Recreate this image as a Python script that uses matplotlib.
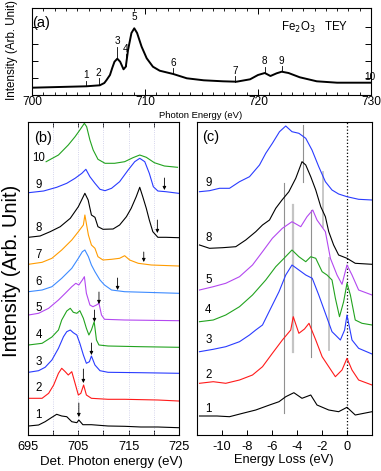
import numpy as np
import matplotlib
matplotlib.use('Agg')
import matplotlib.pyplot as plt

plt.rcParams['font.family'] = ['Liberation Sans', 'DejaVu Sans']
plt.rcParams['axes.unicode_minus'] = False

# ---- (a) TEY spectrum ----
a_E = [700, 704.8, 706.0, 706.4, 706.6, 706.9, 707.1, 707.3, 707.55, 707.8, 708.1, 708.3, 708.5,
       708.8, 709.05, 709.3, 709.7, 710.15, 710.7, 711.3, 712.5, 713.7, 715.2, 716.9, 718.1,
       719.3, 720.0, 720.6, 721.1, 721.65, 722.1, 722.7, 723.7, 725.2, 727.0, 730]
a_I = [7.3, 8.7, 9.7, 12, 15, 20, 27, 33.3, 36.3, 33.3, 25.7, 28.3, 45,
       62, 66.7, 62, 48.3, 36.7, 28.3, 24.3, 21, 16.7, 14.7, 13.7, 13.3,
       15.7, 20, 22, 19, 21.7, 23.3, 22, 17.7, 13.7, 12.3, 12.3]
a_marks = ['1', '2', '3', '4', '5', '6', '7', '8', '9', '10']
a_mark_E = [704.8, 705.9, 707.55, 708.3, 709.05, 712.5, 718.0, 720.6, 722.1, 729.9]
a_tick_top = [14, 17, 48, 41, 72, 27, 19, 28, 29, 13]
a_tick_bot = [9, 10, 37, 29, 72, 21, 13, 22, 24, 13]

# ---- (b) emission spectra vs detected photon energy ----
b1_E = [695.1, 697.1, 698.4, 699.75, 700.7, 701.7, 702.7, 703.7, 704.7, 705.1, 705.9, 707.6, 710.9, 714.2, 717.4, 720.8, 724.9]
b1_I = [9, 10, 13.3, 17.7, 20.7, 19, 18.3, 13.3, 12.3, 15, 10.3, 10.3, 9, 8.7, 8, 8, 7.3]
b2_E = [695.1, 697.8, 699.1, 700.1, 701.05, 701.7, 702.4, 703.0, 703.7, 704.35, 705.0, 705.5, 706.05, 706.6, 707.6, 710.9, 714.2, 720.8, 724.9]
b2_I = [36.7, 36.7, 41.7, 50, 61.7, 66.7, 63.3, 60, 63.3, 51.7, 40, 41.7, 50, 40, 36.7, 35.7, 35.7, 35, 34]
b3_E = [695.1, 697.1, 698.4, 699.75, 701.05, 702.05, 702.7, 703.4, 704.0, 704.7, 705.3, 706.0, 706.6, 707.2, 707.6, 708.3, 709.3, 710.9, 717.4, 724.9]
b3_I = [62.7, 64.3, 67.7, 75, 86.7, 98.3, 103.3, 105, 102.3, 100, 91.7, 80, 71.7, 73.3, 79, 70, 64.3, 62.7, 62.3, 61.7]
b4_E = [695.1, 697.8, 699.75, 701.05, 701.7, 702.7, 703.4, 704.0, 704.7, 705.3, 706.0, 706.6, 707.1, 707.6, 708.15, 708.6, 709.1, 710.9, 717.4, 724.9]
b4_I = [90, 91.7, 98, 105, 115, 124, 126.7, 122.7, 121.7, 124.3, 116.7, 106.7, 100, 105, 113.3, 95, 90, 89, 88.3, 87.7]
b5_E = [695.1, 697.1, 699.1, 701.05, 702.4, 703.7, 704.5, 705.1, 705.8, 706.2, 706.6, 707.3, 707.9, 708.6, 709.1, 709.6, 710.2, 714.2, 724.9]
b5_I = [120, 121.7, 126.7, 135, 141.7, 148.3, 151.7, 150, 155, 158.3, 141.7, 130, 128.3, 130, 131.7, 120, 115.7, 115, 114.3]
b6_E = [695.1, 697.8, 699.75, 701.7, 703.7, 705.0, 705.8, 706.3, 707.0, 707.6, 708.3, 709.3, 710.2, 711.6, 714.2, 724.9]
b6_I = [143.3, 145, 148.3, 156.7, 166.7, 176.7, 183.3, 185, 178.3, 170, 163.3, 155, 150, 145, 143.3, 141.7]
b7_E = [695.1, 697.8, 699.75, 701.7, 703.7, 705.0, 706.0, 706.3, 707.0, 707.6, 708.3, 708.9, 709.9, 711.6, 713.2, 714.2, 715.2, 716.9, 719.5, 724.9]
b7_I = [170.7, 172.7, 176.7, 185, 195, 203.3, 210, 220, 200, 190, 186.7, 178.3, 175, 175.7, 176.7, 179.3, 175, 171.7, 170, 169]
b8_E = [695.1, 697.4, 699.4, 701.4, 703.4, 705.0, 706.3, 706.95, 707.6, 708.3, 708.9, 709.9, 711.9, 713.2, 714.55,
        715.5, 716.5, 717.2, 717.8, 718.5, 719.1, 719.8, 720.8, 722.4, 724.9]
b8_I = [197.7, 199, 203.3, 208.3, 216.7, 228.3, 241.7, 235, 220, 217.7, 208.3, 205.7, 206, 210, 218.3,
        226.7, 238.3, 247.7, 238.3, 226.7, 215, 203.3, 197.7, 197.7, 197.3]
b9_E = [695.1, 698.1, 700.7, 702.7, 704.35, 705.7, 706.5, 707.3, 708.3, 709.3, 710.3, 711.6, 713.2, 714.9,
        716.2, 717.2, 718.2, 719.1, 719.9, 720.8, 722.4, 724.9]
b9_I = [242.3, 244, 247.7, 251.7, 256.7, 261.7, 265.7, 258.3, 251.7, 245.7, 244.3, 246.7, 253.3, 265,
        273.3, 276.7, 273.3, 261.7, 248.3, 244, 243.3, 241.7]
b10_E = [698.6, 701.05, 703.0, 704.35, 705.3, 706.2, 706.65, 707.3, 707.95, 708.9, 710.3, 712.2, 714.2, 715.85,
         717.2, 718.5, 720.1, 722.1, 724.7]
b10_I = [273.3, 280, 290, 298.3, 305, 311.7, 308.3, 295, 285, 275.7, 271.7, 271.7, 273.3, 277.3,
         280, 277.7, 272.3, 269, 267.7]
b_curves = [(b1_E, b1_I, 'black'), (b2_E, b2_I, '#ff1a1a'), (b3_E, b3_I, '#2a3cff'),
            (b4_E, b4_I, '#22a31f'), (b5_E, b5_I, '#b348f0'), (b6_E, b6_I, '#3d8bff'),
            (b7_E, b7_I, '#ff9c00'), (b8_E, b8_I, 'black'), (b9_E, b9_I, '#2a3cff'),
            (b10_E, b10_I, '#22a31f')]
b_labels = ['1', '2', '3', '4', '5', '6', '7', '8', '9', '10']
b_label_y = [20, 47, 73, 100, 127, 153, 180, 207, 250, 277]
b_arrow_E = [705.1, 706.0, 707.6, 708.2, 709.1, 712.8, 718.0, 720.7, 722.1]
b_arrow_top = [32, 66, 92, 125, 143, 157, 183, 215, 257]
b_arrow_bot = [18, 52, 80, 113, 131, 145, 173, 202, 245]

# ---- (c) energy loss spectra ----
c1_x = [-11.8, -10.4, -9.4, -8.35, -7.3, -6.2, -5.44, -4.9, -4.25, -3.6, -2.9, -2.4, -1.46, -0.67, 0, 0.66, 2]
c1_y = [19, 19, 18.3, 21.7, 25, 30, 33.3, 38.3, 42.3, 36.7, 40, 30, 25, 23.3, 27.7, 20, 23.3]
c2_x = [-11.8, -10.7, -9.7, -8.6, -7.56, -6.76, -5.97, -5.17, -4.5, -4.3, -3.85, -3.4, -3.04, -2.5, -1.99, -1.46, -0.93, -0.4, 0, 0.4, 0.93, 2]
c2_y = [51.7, 53.3, 51.7, 55, 60, 68.3, 81.7, 95, 105, 118.3, 101.7, 106, 111.7, 95, 78.3, 68.3, 58.3, 65, 76.7, 65, 55, 50]
c3_x = [-11.8, -10.7, -9.7, -8.6, -7.8, -7.3, -6.76, -6.1, -5.44, -4.9, -4.4, -3.85, -3.3, -2.78, -2.26, -1.73, -1.2,
        -0.93, -0.53, -0.19, 0, 0.4, 0.93, 2]
c3_y = [83.3, 85.7, 88.3, 93.3, 100, 105, 110, 126.7, 143.3, 160, 170, 165, 160, 156.7, 140, 121.7, 103.3,
        100, 95, 105, 120, 95, 86.7, 81]
c4_x = [-11.8, -10.7, -9.7, -8.6, -7.56, -6.5, -5.7, -5.04, -4.4, -3.85, -3.3, -2.9, -2.5, -1.99, -1.6, -1.2,
        -0.93, -0.6, -0.27, 0, 0.27, 0.66, 1.2, 2]
c4_y = [113.3, 115, 120, 128.3, 140, 155, 168.3, 176.7, 185, 178.3, 173.3, 178.3, 176.7, 163.3, 160, 155,
        136.7, 118.3, 133.3, 151.7, 140, 115, 111.7, 110]
c5_x = [-11.8, -10.7, -9.7, -8.6, -7.56, -6.76, -5.97, -5.17, -4.4, -3.7, -3.2, -2.74, -2.4, -1.73, -1.33,
        -0.8, -0.4, 0, 0.4, 0.93, 2]
c5_y = [145, 148.3, 151.7, 158.3, 170, 183.3, 196.7, 206.7, 213.3, 208.3, 218.3, 225, 215, 203.3, 176.7,
        160, 150.7, 170, 160, 145, 140]
c8_x = [-11.8, -11.0, -9.95, -8.9, -8.1, -7.3, -6.76, -6.2, -5.7, -5.2, -4.65, -4.1, -3.6, -3.3, -2.9, -2.5,
        -2.1, -1.73, -1.46, -1.07, -0.67, 0, 0.66, 2]
c8_y = [190, 186.7, 187.3, 188.3, 195, 203.3, 210, 215, 226.7, 235, 243.3, 256.7, 273.3, 270, 258.3, 245,
        228.3, 218.3, 203.3, 190, 180, 176.7, 171.7, 170.7]
c9_x = [-11.8, -11.0, -10.2, -9.4, -8.6, -7.8, -7.0, -6.5, -5.97, -5.4, -4.9, -4.4, -3.85, -3.3, -2.8, -2.26,
        -1.73, -1.2, -0.67, 0, 0.93, 2]
c9_y = [243.3, 244.3, 246.7, 246.7, 253.3, 258.3, 270, 281.7, 291.7, 303.3, 309, 303.3, 301.7, 296.7, 285, 268.3,
        253.3, 245, 241, 238.3, 235.7, 235]
c_curves = [(c1_x, c1_y, 'black'), (c2_x, c2_y, '#ff1a1a'), (c3_x, c3_y, '#2a3cff'),
            (c4_x, c4_y, '#22a31f'), (c5_x, c5_y, '#b348f0'), (c8_x, c8_y, 'black'),
            (c9_x, c9_y, '#2a3cff')]
c_labels = ['1', '2', '3', '4', '5', '8', '9']
c_label_y = [26, 60, 95, 125, 155, 197, 252]
c_vl_x = [-5.05, -4.3, -3.55, -2.9, -1.9, -1.45]
c_vl_top = [252, 230, 310, 225, 263, 177]
c_vl_bot = [22, 83, 253, 78, 208, 85]
c_vl_col = ['#909090', '#c4c4c4', '#909090', '#909090', '#c4c4c4', '#c4c4c4']
c_vl_lw = [0.8, 1.6, 0.8, 0.8, 1.3, 1.3]

W, H = 381, 471
fig = plt.figure(figsize=(W / 100, H / 100), dpi=100)

# panel (a)
ax = fig.add_axes([32 / W, 1 - 95 / H, 339 / W, 87 / H])
ax.plot(a_E, a_I, color='black', lw=1.4)
for lab, e, t, b in zip(a_marks, a_mark_E, a_tick_top, a_tick_bot):
    if t > b:
        ax.plot([e, e], [b, t], color='black', lw=0.6)
    ax.text(e, t + 0.5, lab, ha='center', va='bottom', fontsize=7.2)
ax.set_xlim(700, 730)
ax.set_ylim(0, 87)
ax.set_xticks([700, 710, 720, 730])
ax.set_xticks(np.arange(700, 731, 1), minor=True)
ax.set_yticks([17, 34, 51, 68])
ax.set_yticklabels([])
ax.tick_params(direction='in', top=True, right=True, labelsize=8.6, pad=1, length=4, width=0.7)
ax.tick_params(which='minor', direction='in', top=True, length=2.2, width=0.6)
ax.text(0.0, 0.83, '(a)', transform=ax.transAxes, fontsize=10.5, ha='left', va='center')
ax.text(0.735, 0.78, 'Fe$_2$O$_3$   TEY', transform=ax.transAxes, fontsize=8.3, ha='left', va='center')
for s in ax.spines.values():
    s.set_linewidth(0.8)
fig.text(201 / W, 1 - 115 / H, 'Photon Energy (eV)', ha='center', va='center', fontsize=6.8)
fig.text(12 / W, 1 - 50 / H, 'Intensity (Arb. Unit)', rotation=90, ha='center', va='center', fontsize=8.4)

# panel (b)
bx = fig.add_axes([28 / W, 1 - 435 / H, 151 / W, 313 / H])
for g in [700, 705, 710, 715, 720]:
    bx.axvline(g, color='#c8c8e6', lw=0.6, ls=':')
for e_, i_, col in b_curves:
    bx.plot(e_, i_, color=col, lw=0.8)
for lab, y in zip(b_labels, b_label_y):
    bx.text(697.1, y, lab, ha='center', va='center', fontsize=8.3)
for e, t, b in zip(b_arrow_E, b_arrow_top, b_arrow_bot):
    bx.annotate('', xy=(e, b), xytext=(e, t),
                arrowprops=dict(arrowstyle='-|>', color='black', lw=0.6, mutation_scale=5, shrinkA=0, shrinkB=0))
bx.text(696.2, 297, '(b)', fontsize=10.5, ha='left', va='center')
bx.set_xlim(695, 725)
bx.set_ylim(0, 313)
bx.set_xticks([695, 700, 705, 710, 715, 720, 725])
bx.set_xticklabels(['695', '', '705', '', '715', '', '725'])
bx.set_yticks([])
bx.tick_params(direction='in', top=True, labelsize=9.2, pad=4, length=3.5, width=0.7)
for s in bx.spines.values():
    s.set_linewidth(0.8)
fig.text(111 / W, 1 - 462 / H, 'Det. Photon energy (eV)', ha='center', va='center', fontsize=9.5)
fig.text(12 / W, 1 - 271 / H, 'Intensity (Arb. Unit)', rotation=90, ha='center', va='center', fontsize=14.5)

# panel (c)
cx = fig.add_axes([197 / W, 1 - 435 / H, 175 / W, 313 / H])
for x, t, b, col, lw in zip(c_vl_x, c_vl_top, c_vl_bot, c_vl_col, c_vl_lw):
    cx.plot([x, x], [b, t], color=col, lw=lw)
cx.axvline(0, color='black', lw=0.9, ls=':')
for x_, y_, col in c_curves:
    cx.plot(x_, y_, color=col, lw=0.8)
for lab, y in zip(c_labels, c_label_y):
    cx.text(-11.1, y, lab, ha='center', va='center', fontsize=8.3)
cx.text(-11.6, 298, '(c)', fontsize=10.5, ha='left', va='center')
cx.set_xlim(-12, 2)
cx.set_ylim(0, 313)
cx.set_xticks([-12, -10, -8, -6, -4, -2, 0, 2])
cx.set_xticklabels(['', '-10', '-8', '-6', '-4', '-2', '0', ''])
cx.set_yticks([])
cx.tick_params(direction='in', labelsize=9.2, pad=4, length=3.5, width=0.7)
for s in cx.spines.values():
    s.set_linewidth(0.8)
fig.text(284 / W, 1 - 460 / H, 'Energy Loss (eV)', ha='center', va='center', fontsize=9.3)

fig.savefig('out.png', dpi=100)
